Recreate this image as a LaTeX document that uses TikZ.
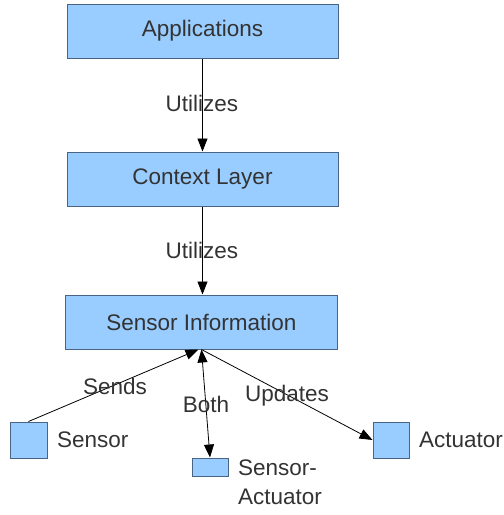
\documentclass[tikz,border=0pt]{standalone}
\usepackage{fontspec}
\setmainfont{Liberation Sans}
\usetikzlibrary{arrows.meta}
\definecolor{boxfill}{HTML}{99CCFF}
\definecolor{boxline}{HTML}{4A6584}
\definecolor{ink}{HTML}{333333}
\tikzset{
  layer/.style={draw=boxline, fill=boxfill, line width=1pt, inner sep=0pt,
    minimum width=271pt, minimum height=54pt, text=ink},
  device/.style={draw=boxline, fill=boxfill, line width=1pt, inner sep=0pt, text=ink},
  lbl/.style={text=ink, inner sep=0pt},
  link/.style={line width=0.8pt, draw=black, -{Triangle[length=13pt,width=10pt]}},
  bilink/.style={line width=0.8pt, draw=black, {Triangle[length=13pt,width=10pt]}-{Triangle[length=13pt,width=10pt]}},
}
\begin{document}
\begin{tikzpicture}[x=1pt, y=-1pt, font=\fontsize{22.5}{29}\selectfont]
\useasboundingbox (0,0) rectangle (504,515);

% stacked layers
\node[layer] (app) at (202.5,31) {Applications};
\node[layer] (ctx) at (202.5,179) {Context Layer};
\node[layer, minimum width=272pt] (info) at (201.5,322) {Sensor Information};

% devices
\node[device, minimum width=37pt, minimum height=36pt] (sensor) at (28.5,440) {};
\node[device, minimum width=36pt, minimum height=18pt] (sa) at (210,467) {};
\node[device, minimum width=36pt, minimum height=36pt] (act) at (391,440) {};

% device names
\node[lbl, anchor=west] (sensorname) at (57,440) {Sensor};
\node[lbl, anchor=west] (actname) at (419,440) {Actuator};
\node[lbl, anchor=west, align=left] (saname) at (238,482) {Sensor-\\Actuator};

% connectors
\draw[link] (app.south) -- (ctx.north);
\draw[link] (ctx.south) -- (ctx.south |- info.north);
\draw[link] (sensor.north) -- ([xshift=-3pt]info.south);
\draw[bilink] (sa.north) -- (info.south);
\draw[link] (info.south) -- (act.west);

% connector labels
\node[lbl] (u1) at (202,103) {Utilizes};
\node[lbl] (u2) at (202,250) {Utilizes};
\node[lbl] (sends) at (115,386) {Sends};
\node[lbl] (both) at (206,404) {Both};
\node[lbl] (upd) at (287,396) {Updates};
\end{tikzpicture}
\end{document}
